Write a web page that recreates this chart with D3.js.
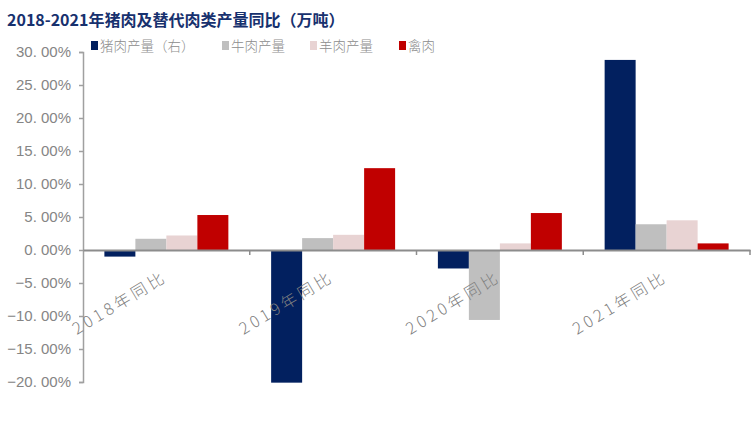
<!DOCTYPE html>
<html><head><meta charset="utf-8">
<script src="https://cdn.jsdelivr.net/npm/d3@7"></script>
<style>body{margin:0;background:#fff}</style>
</head><body>
<svg id="c" width="751" height="435"></svg>
<script>
const categories = ["2018年同比","2019年同比","2020年同比","2021年同比"];
const seriesNames = ["猪肉产量（右）","牛肉产量","羊肉产量","禽肉"];
const pork   = [-1.0, -20.1, -2.8, 28.8];
const beef   = [1.7, 1.8, -10.6, 3.9];
const mutton = [2.2, 2.3, 1.0, 4.5];
const poultry= [5.3, 12.4, 5.6, 1.0];
const yTicks = [30,25,20,15,10,5,0,-5,-10,-15,-20];
const colors = ["#02205F","#BFBFBF","#E8D3D3","#C00000"];
const series = [pork, beef, mutton, poultry];

const svg = d3.select("#c");
const x = d3.scaleBand().domain(categories).range([83,750]).paddingInner(0).paddingOuter(0);
const y = d3.scaleLinear().domain([-20,30]).range([382,52]);
const xs = d3.scaleBand().domain(d3.range(4)).range([0,x.bandwidth()]).paddingOuter(0.69).paddingInner(0);

svg.append("text").attr("x",7).attr("y",26).text("2018-2021年猪肉及替代肉类产量同比（万吨）")
  .attr("font-family","Noto Sans CJK SC").attr("font-weight","bold").attr("font-size",16).attr("fill","#17316E");

// legend
const lx = [91,222,310,399];
seriesNames.forEach((n,i)=>{
  svg.append("rect").attr("x",lx[i]).attr("y",41).attr("width",7).attr("height",9).attr("fill",colors[i]);
  svg.append("text").attr("x",lx[i]+9).attr("y",51).text(n)
    .attr("font-family","Noto Sans CJK SC").attr("font-weight",300).attr("font-size",13.5).attr("fill","#8c8c8c");
});

// bars
categories.forEach((c,ci)=>{
  series.forEach((s,si)=>{
    const v = s[ci];
    svg.append("rect").attr("x",x(c)+xs(si)).attr("width",xs.bandwidth())
      .attr("y",y(Math.max(0,v))).attr("height",Math.abs(y(v)-y(0))).attr("fill",colors[si]);
  });
});

// y axis
const ya = svg.append("g").attr("transform","translate(83,0)")
  .call(d3.axisLeft(y).tickValues(yTicks).tickSize(4).tickPadding(8).tickFormat(d=>d3.format(".2f")(d).replace("-","−").replace(".",". ")+"%"));
ya.selectAll("path,line").attr("stroke","#a0a0a0").attr("stroke-width",1.5);
ya.selectAll("text").attr("font-family","Liberation Sans").attr("font-size",15).attr("fill","#858585");

// x axis at zero
const xa = svg.append("g").attr("transform",`translate(0,${y(0)})`)
  .call(d3.axisBottom(x).tickSize(0).tickFormat(""));
xa.select("path").attr("stroke","#8c8c8c").attr("stroke-width",2);
const bounds = categories.map(c=>x(c)).concat([x.range()[1]]);
bounds.slice(1).forEach(b=>{
  svg.append("line").attr("x1",b).attr("x2",b).attr("y1",y(0)).attr("y2",y(0)+5).attr("stroke","#8c8c8c").attr("stroke-width",1.5);
});
categories.forEach(c=>{
  const cx = x(c)+x.bandwidth()/2;
  svg.append("text").attr("transform",`translate(${cx+2},280) rotate(-31)`)
    .attr("text-anchor","end").text(c)
    .attr("font-family","Noto Sans CJK SC").attr("font-weight",300).attr("font-size",16).attr("letter-spacing",3.5).attr("fill","#7f7f7f");
});
</script>
</body></html>
